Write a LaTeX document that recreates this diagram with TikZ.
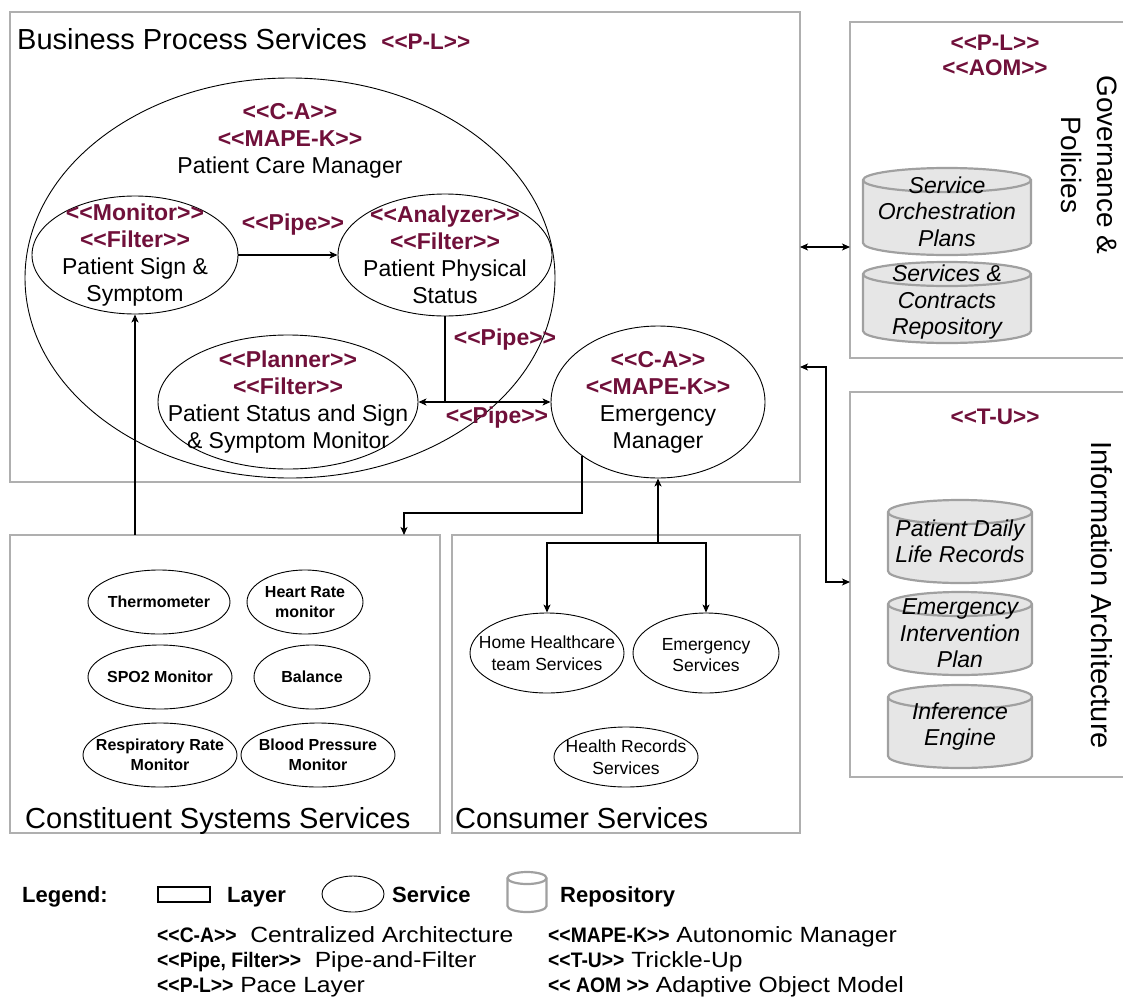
\documentclass[tikz,border=0pt]{standalone}
\usepackage{fontspec}
\setmainfont{Liberation Sans}[Ligatures=TeXOff]
\newfontfamily\lgreg{Liberation Sans}[Ligatures=TeXOff,FakeStretch=1.12]
\newfontfamily\lgbld{Liberation Sans Bold}[Ligatures=TeXOff,FakeStretch=0.92]
\usetikzlibrary{shapes.geometric,arrows.meta}
\definecolor{stereo}{RGB}{112,16,58}
\definecolor{layergray}{RGB}{175,175,175}
\definecolor{repofill}{RGB}{230,230,230}
\definecolor{repoline}{RGB}{160,160,160}
\newcommand\fs[2]{\fontsize{#1}{#2}\selectfont}
\newcommand\st[1]{\textcolor{stereo}{\bfseries <<#1>>}}
\newcommand\lgb[1]{{\lgbld\fs{21}{25}#1}}
% repository cylinder: name, centre x, top y, bottom y, x radius, text
\newcommand\repocyl[6]{%
  \path[repo] ({#2-#5},{-#3-12}) -- ({#2-#5},{-#4+12})
    arc[start angle=180,end angle=360,x radius=#5pt,y radius=12pt]
    -- ({#2+#5},{-#3-12})
    arc[start angle=0,end angle=180,x radius=#5pt,y radius=12pt] -- cycle;
  \draw[draw=repoline,line width=2.2pt] ({#2-#5},{-#3-12})
    arc[start angle=180,end angle=360,x radius=#5pt,y radius=12pt];
  \node[repotxt] (#1) at (#2,{-(#3+#4)/2}) {#6};
}
\tikzset{
  layer/.style={draw=layergray, line width=2.2pt, anchor=north west, inner sep=0pt, outer sep=0pt},
  svc/.style={ellipse, draw, line width=0.9pt, inner sep=0pt},
  txt/.style={align=center, inner sep=0pt, font=\fs{23}{27}},
  sens/.style={align=center, inner sep=0pt, font=\bfseries\fs{16}{20}},
  cons/.style={align=center, inner sep=0pt, font=\fs{17.5}{21.5}},
  pipe/.style={inner sep=0pt, font=\bfseries\fs{23}{27}, text=stereo},
  arr/.style={line width=1.1pt, -{Stealth[length=8pt,width=7pt,inset=2pt]}},
  darr/.style={line width=1.1pt, {Stealth[length=8pt,width=7pt,inset=2pt]}-{Stealth[length=8pt,width=7pt,inset=2pt]}},
  ttl/.style={anchor=base west, inner sep=0pt, font=\fs{29}{34}},
  repo/.style={draw=repoline, fill=repofill, line width=2.2pt},
  repotxt/.style={font=\itshape\fs{23}{26.5}, align=center, inner sep=0pt},
  lgrow/.style={anchor=base west, inner sep=0pt, font=\lgreg\fs{22}{26}},
  lghead/.style={anchor=base west, inner sep=0pt, font=\bfseries\fs{22}{26}},
}
\begin{document}
\begin{tikzpicture}[x=1pt,y=1pt]
\useasboundingbox (0,0) rectangle (1123,-998);

% layers
\node[layer, minimum width=790pt, minimum height=470pt] (bps) at (10,-12) {};
\node[layer, minimum width=430pt, minimum height=298pt] (css) at (10,-535) {};
\node[layer, minimum width=348pt, minimum height=298pt] (cs) at (452,-535) {};
\node[layer, minimum width=274pt, minimum height=336pt] (gov) at (850,-22) {};
\node[layer, minimum width=274pt, minimum height=385pt] (ia) at (850,-392) {};

% layer titles
\node[ttl] (bps-t) at (17,-50) {Business Process Services\hspace{0.5em}{\fs{22.5}{27}\st{P-L}}};
\node[ttl] (css-t) at (25,-828) {Constituent Systems Services};
\node[ttl] (cs-t) at (455,-828) {Consumer Services};
\node[txt, font=\fs{22.5}{25}] (gov-st) at (995,-55) {\st{P-L}\\\st{AOM}};
\node[txt, font=\fs{22.5}{25}] (ia-st) at (995,-417) {\st{T-U}};
\node[rotate=-90, align=center, inner sep=0pt, font=\fs{28}{36}] (gov-t) at (1089,-165) {Governance \&\\Policies};
\node[rotate=-90, inner sep=0pt, font=\fs{29}{34}] (ia-t) at (1102,-595) {Information Architecture};

% business process services
\node[svc, minimum width=530pt, minimum height=400pt] (pcm) at (290,-278) {};
\node[txt] (pcm-t) at (290,-141) {\st{C-A}\\\st{MAPE-K}\\Patient Care Manager};
\node[svc, minimum width=206pt, minimum height=118pt] (mon) at (135,-255) {};
\node[txt] (mon-t) at (mon) {\st{Monitor}\\\st{Filter}\\Patient Sign \&\\Symptom};
\node[svc, minimum width=214pt, minimum height=122pt] (ana) at (445,-255) {};
\node[txt] (ana-t) at (ana) {\st{Analyzer}\\\st{Filter}\\Patient Physical\\Status};
\node[svc, minimum width=260pt, minimum height=134pt] (pln) at (288,-402) {};
\node[txt] (pln-t) at (pln) {\st{Planner}\\\st{Filter}\\Patient Status and Sign\\\& Symptom Monitor};
\node[svc, minimum width=214pt, minimum height=152pt] (em) at (658,-402) {};
\node[txt] (em-t) at (em) {\st{C-A}\\\st{MAPE-K}\\Emergency\\Manager};
\node[pipe] (p1) at (293,-225) {<<Pipe>>};
\node[pipe] (p2) at (505,-340) {<<Pipe>>};
\node[pipe] (p3) at (497,-418) {<<Pipe>>};

% constituent systems services
\node[svc, minimum width=142pt, minimum height=64pt] (thm) at (159,-602) {};
\node[sens] (thm-t) at (thm) {Thermometer};
\node[svc, minimum width=116pt, minimum height=64pt] (hrm) at (305,-602) {};
\node[sens] (hrm-t) at (hrm) {Heart Rate\\monitor};
\node[svc, minimum width=144pt, minimum height=64pt] (spo) at (160,-677) {};
\node[sens] (spo-t) at (spo) {SPO2 Monitor};
\node[svc, minimum width=116pt, minimum height=64pt] (bal) at (312,-677) {};
\node[sens] (bal-t) at (bal) {Balance};
\node[svc, minimum width=154pt, minimum height=64pt] (rrm) at (160,-755) {};
\node[sens] (rrm-t) at (rrm) {Respiratory Rate\\Monitor};
\node[svc, minimum width=154pt, minimum height=64pt] (bpm) at (318,-755) {};
\node[sens] (bpm-t) at (bpm) {Blood Pressure\\Monitor};

% consumer services
\node[svc, minimum width=154pt, minimum height=80pt] (hhs) at (547,-653) {};
\node[cons] (hhs-t) at (hhs) {Home Healthcare\\team Services};
\node[svc, minimum width=146pt, minimum height=80pt] (ems) at (706,-653) {};
\node[cons] (ems-t) at (706,-655) {Emergency\\Services};
\node[svc, minimum width=144pt, minimum height=60pt] (hrs) at (626,-757) {};
\node[cons] (hrs-t) at (hrs) {Health Records\\Services};

% repositories
\repocyl{sop}{947}{168}{255}{84}{Service\\Orchestration\\Plans}
\repocyl{scr}{947}{262}{343}{84}{Services \&\\Contracts\\Repository}
\repocyl{pdl}{960}{500}{583}{72}{Patient Daily\\Life Records}
\repocyl{eip}{960}{592}{675}{72}{Emergency\\Intervention\\Plan}
\repocyl{inf}{960}{685}{768}{72}{Inference\\Engine}

% connectors
\draw[arr] (mon.east) -- (ana.west);
\draw[line width=1.1pt] (ana.south) -- (ana.south |- pln.east);
\draw[darr] (pln.east) -- (em.west);
\draw[arr] (mon.south |- css.north) -- (mon.south);
\coordinate (css-in) at (404,-535);
\coordinate (bend) at (404,-513);
\draw[arr] (em.south west) |- (bend) -- (css-in);
\coordinate (jn) at (em.south |- 0,-543);
\draw[arr] (jn) -- (em.south);
\draw[arr] (jn) -| (hhs.north);
\draw[arr] (jn) -| (ems.north);
\draw[darr] (bps.east |- 0,-247) -- (gov.west |- 0,-247);
\coordinate (ia-bend) at (826,-367);
\draw[darr] (bps.east |- ia-bend) -- (ia-bend) |- (ia.west |- 0,-582);

% legend
\node[lghead] (lg) at (22,-902) {Legend:};
\node[draw, line width=2pt, minimum width=52pt, minimum height=15pt, inner sep=0pt] (lg-layer) at (184,-894.5) {};
\node[lghead] (lg-layer-t) at (227,-902) {Layer};
\node[svc, minimum width=62pt, minimum height=36pt] (lg-svc) at (353,-894) {};
\node[lghead] (lg-svc-t) at (392,-902) {Service};
\path[draw=repoline, fill=white, line width=2.2pt] (507.5,-878) -- (507.5,-906)
  arc[start angle=180,end angle=360,x radius=19.5pt,y radius=6pt] -- (546.5,-878)
  arc[start angle=0,end angle=180,x radius=19.5pt,y radius=6pt] -- cycle;
\draw[draw=repoline, line width=2.2pt] (507.5,-878) arc[start angle=180,end angle=360,x radius=19.5pt,y radius=6pt];
\node[lghead] (lg-repo-t) at (560,-902) {Repository};
\node[lgrow] (lg1) at (157,-942) {\lgb{<<C-A>>}\ \ Centralized Architecture};
\node[lgrow] (lg2) at (157,-967) {\lgb{<<Pipe, Filter>>}\ \ Pipe-and-Filter};
\node[lgrow] (lg3) at (157,-992) {\lgb{<<P-L>>} Pace Layer};
\node[lgrow] (lg4) at (548,-942) {\lgb{<<MAPE-K>>} Autonomic Manager};
\node[lgrow] (lg5) at (548,-967) {\lgb{<<T-U>>} Trickle-Up};
\node[lgrow] (lg6) at (548,-992) {\lgb{<< AOM >>} Adaptive Object Model};
\end{tikzpicture}
\end{document}
